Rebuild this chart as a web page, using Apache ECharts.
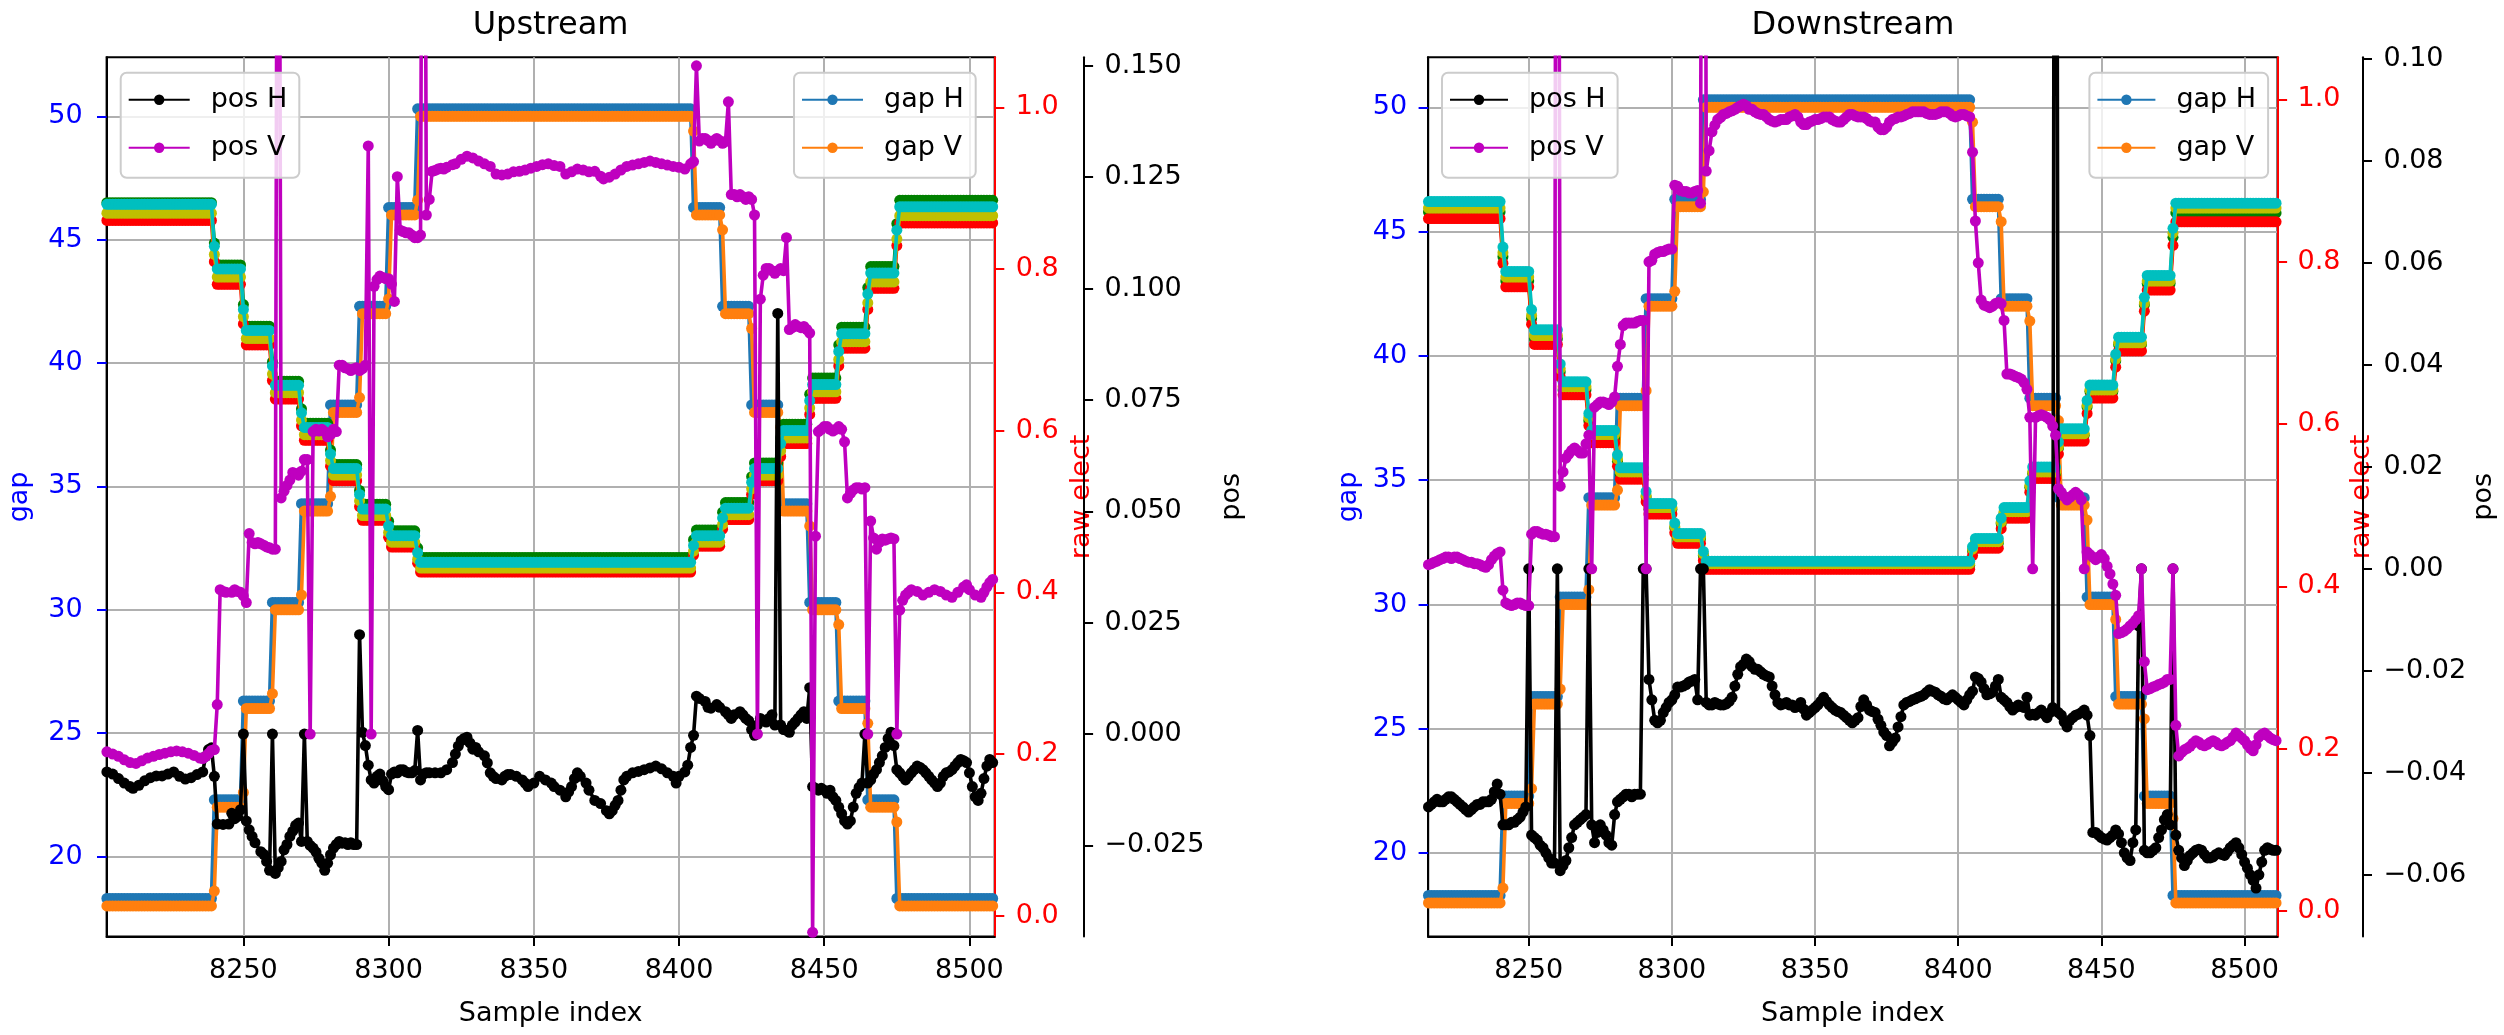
<!DOCTYPE html>
<html>
<head>
<meta charset="utf-8">
<title>Upstream / Downstream gap scan</title>
<script src="https://cdn.jsdelivr.net/npm/echarts@6.0.0/dist/echarts.min.js"></script>
<style>
  html, body { margin: 0; padding: 0; background: #ffffff; }
  #chart { width: 2504px; height: 1035px; }
</style>
</head>
<body>
<div id="chart"></div>
<script>
const FONT = 'DejaVu Sans';

// ---------- shared tick labels ----------
const xTicks = [8250, 8300, 8350, 8400, 8450, 8500];
const gapTicks = [20, 25, 30, 35, 40, 45, 50];
const electTicks = [0, 0.2, 0.4, 0.6, 0.8, 1.0];
const upPosTicks = [-0.025, 0, 0.025, 0.05, 0.075, 0.1, 0.125, 0.15];
const dnPosTicks = [-0.06, -0.04, -0.02, 0, 0.02, 0.04, 0.06, 0.08, 0.1];

// ---------- axis ranges ----------
const upXRange = [8202.9, 8508.7];
const upGapRange = [16.76, 52.39];
const upElectRange = [-0.0259, 1.0619];
const upPosRange = [-0.04545, 0.1519];
const dnXRange = [8214.9, 8511.5];
const dnGapRange = [16.65, 52.01];
const dnElectRange = [-0.0313, 1.0517];
const dnPosRange = [-0.0721, 0.1003];

// ---------- Upstream: sample span and set-point steps [first sample, value] ----------
const upSamples = [8203, 8508];
const upGapH = [[8203,18.3],[8240,22.3],[8250,26.3],[8260,30.3],[8270,34.3],[8280,38.3],[8290,42.3],[8300,46.3],[8310,50.3],[8405,46.3],[8415,42.3],[8425,38.3],[8435,34.3],[8445,30.3],[8455,26.3],[8465,22.3],[8475,18.3]];
const upGapV = [[8203,18.0],[8240,18.6],[8241,22.0],[8250,22.6],[8251,26.0],[8260,26.6],[8261,30.0],[8270,30.6],[8271,34.0],[8280,34.6],[8281,38.0],[8290,38.6],[8291,42.0],[8300,42.6],[8301,46.0],[8310,46.6],[8311,50.0],[8405,49.4],[8406,46.0],[8415,45.4],[8416,42.0],[8425,41.4],[8426,38.0],[8435,37.4],[8436,34.0],[8445,33.4],[8446,30.0],[8455,29.4],[8456,26.0],[8465,25.4],[8466,22.0],[8475,21.4],[8476,18.0]];
const upElectG = [[8203,0.882],[8240,0.832],[8241,0.805],[8250,0.756],[8251,0.729],[8260,0.685],[8261,0.661],[8270,0.627],[8271,0.609],[8280,0.576],[8281,0.558],[8290,0.526],[8291,0.509],[8300,0.488],[8301,0.476],[8310,0.455],[8311,0.443],[8405,0.465],[8406,0.477],[8415,0.499],[8416,0.511],[8425,0.543],[8426,0.560],[8435,0.591],[8436,0.608],[8445,0.645],[8446,0.665],[8455,0.706],[8456,0.728],[8465,0.777],[8466,0.803],[8475,0.856],[8476,0.885]];
const upElectR = [[8203,0.860],[8240,0.809],[8241,0.781],[8250,0.732],[8251,0.706],[8260,0.662],[8261,0.639],[8270,0.606],[8271,0.588],[8280,0.556],[8281,0.538],[8290,0.506],[8291,0.489],[8300,0.468],[8301,0.456],[8310,0.436],[8311,0.425],[8405,0.446],[8406,0.457],[8415,0.478],[8416,0.490],[8425,0.521],[8426,0.538],[8435,0.568],[8436,0.584],[8445,0.620],[8446,0.640],[8455,0.680],[8456,0.702],[8465,0.750],[8466,0.776],[8475,0.829],[8476,0.857]];
const upElectY = [[8203,0.869],[8240,0.818],[8241,0.790],[8250,0.741],[8251,0.714],[8260,0.670],[8261,0.647],[8270,0.613],[8271,0.595],[8280,0.563],[8281,0.545],[8290,0.513],[8291,0.495],[8300,0.474],[8301,0.462],[8310,0.441],[8311,0.430],[8405,0.451],[8406,0.462],[8415,0.484],[8416,0.496],[8425,0.528],[8426,0.545],[8435,0.575],[8436,0.591],[8445,0.628],[8446,0.648],[8455,0.688],[8456,0.710],[8465,0.758],[8466,0.784],[8475,0.837],[8476,0.866]];
const upElectC = [[8203,0.880],[8240,0.828],[8241,0.800],[8250,0.750],[8251,0.724],[8260,0.680],[8261,0.656],[8270,0.622],[8271,0.604],[8280,0.571],[8281,0.553],[8290,0.521],[8291,0.503],[8300,0.482],[8301,0.470],[8310,0.449],[8311,0.437],[8405,0.458],[8406,0.470],[8415,0.492],[8416,0.504],[8425,0.536],[8426,0.553],[8435,0.584],[8436,0.600],[8445,0.637],[8446,0.657],[8455,0.698],[8456,0.720],[8465,0.769],[8466,0.795],[8475,0.848],[8476,0.877]];

// ---------- Upstream beam position readings [sample, pos] ----------
const upPosH = [[8203,-0.0085],[8205,-0.0090],[8207,-0.0100],[8209,-0.0110],[8211,-0.0118],[8212,-0.0122],[8214,-0.0115],[8216,-0.0105],[8218,-0.0098],[8220,-0.0094],[8222,-0.0094],[8224,-0.0090],[8226,-0.0085],[8228,-0.0095],[8230,-0.0101],[8232,-0.0098],[8234,-0.0091],[8236,-0.0085],[8237,-0.0050],[8238,-0.0035],[8239,-0.0031],[8240,-0.0095],[8241,-0.0202],[8243,-0.0203],[8245,-0.0202],[8246,-0.0178],[8247,-0.0190],[8248,-0.0185],[8249,-0.0170],[8250,0.0000],[8251,-0.0195],[8252,-0.0215],[8253,-0.0230],[8254,-0.0244],[8256,-0.0264],[8257,-0.0270],[8258,-0.0286],[8259,-0.0306],[8260,0.0000],[8261,-0.0313],[8262,-0.0300],[8263,-0.0286],[8264,-0.0260],[8265,-0.0248],[8266,-0.0230],[8267,-0.0218],[8268,-0.0205],[8269,-0.0200],[8270,-0.0241],[8271,0.0000],[8272,-0.0241],[8273,-0.0250],[8274,-0.0256],[8275,-0.0265],[8276,-0.0279],[8277,-0.0290],[8278,-0.0306],[8279,-0.0290],[8280,-0.0271],[8281,-0.0256],[8282,-0.0248],[8283,-0.0241],[8284,-0.0245],[8285,-0.0244],[8286,-0.0248],[8287,-0.0244],[8288,-0.0248],[8289,-0.0248],[8290,0.0223],[8291,0.0004],[8292,-0.0026],[8293,-0.0070],[8294,-0.0103],[8295,-0.0110],[8296,-0.0095],[8297,-0.0090],[8298,-0.0105],[8299,-0.0118],[8300,-0.0125],[8301,-0.0090],[8302,-0.0085],[8303,-0.0087],[8304,-0.0080],[8305,-0.0080],[8306,-0.0085],[8307,-0.0087],[8308,-0.0087],[8309,-0.0082],[8310,0.0008],[8311,-0.0103],[8312,-0.0090],[8313,-0.0087],[8314,-0.0087],[8316,-0.0087],[8318,-0.0087],[8320,-0.0080],[8322,-0.0064],[8323,-0.0045],[8324,-0.0027],[8325,-0.0015],[8326,-0.0010],[8327,-0.0007],[8328,-0.0020],[8329,-0.0034],[8330,-0.0030],[8331,-0.0040],[8333,-0.0049],[8334,-0.0065],[8335,-0.0087],[8336,-0.0095],[8337,-0.0100],[8339,-0.0103],[8340,-0.0095],[8341,-0.0091],[8342,-0.0091],[8344,-0.0095],[8346,-0.0103],[8347,-0.0110],[8348,-0.0118],[8350,-0.0110],[8352,-0.0095],[8354,-0.0103],[8356,-0.0110],[8357,-0.0118],[8359,-0.0126],[8361,-0.0141],[8362,-0.0130],[8363,-0.0118],[8364,-0.0100],[8365,-0.0087],[8366,-0.0095],[8368,-0.0110],[8369,-0.0126],[8371,-0.0149],[8373,-0.0156],[8375,-0.0172],[8376,-0.0179],[8377,-0.0172],[8378,-0.0160],[8379,-0.0149],[8380,-0.0126],[8381,-0.0103],[8382,-0.0095],[8384,-0.0087],[8386,-0.0084],[8388,-0.0080],[8390,-0.0076],[8392,-0.0072],[8394,-0.0078],[8396,-0.0087],[8398,-0.0095],[8399,-0.0110],[8400,-0.0095],[8402,-0.0085],[8403,-0.0070],[8404,-0.0030],[8405,-0.0003],[8406,0.0085],[8407,0.0080],[8409,0.0073],[8410,0.0060],[8411,0.0058],[8413,0.0066],[8414,0.0060],[8416,0.0050],[8417,0.0043],[8418,0.0035],[8419,0.0043],[8421,0.0050],[8422,0.0043],[8423,0.0035],[8424,0.0030],[8425,0.0010],[8426,-0.0003],[8427,0.0020],[8428,0.0035],[8429,0.0030],[8430,0.0027],[8431,0.0035],[8432,0.0043],[8433,0.0020],[8434,0.0944],[8435,0.0020],[8436,0.0010],[8437,0.0008],[8438,0.0004],[8439,0.0020],[8440,0.0027],[8441,0.0035],[8442,0.0043],[8443,0.0050],[8444,0.0035],[8445,0.0104],[8446,-0.0118],[8447,-0.0122],[8448,-0.0126],[8449,-0.0122],[8450,-0.0126],[8451,-0.0133],[8452,-0.0126],[8453,-0.0141],[8454,-0.0149],[8455,-0.0164],[8456,-0.0179],[8457,-0.0195],[8458,-0.0202],[8459,-0.0195],[8460,-0.0164],[8461,-0.0133],[8462,-0.0120],[8463,-0.0110],[8464,0.0000],[8465,-0.0110],[8466,-0.0103],[8467,-0.0090],[8468,-0.0080],[8469,-0.0064],[8470,-0.0049],[8471,-0.0030],[8472,-0.0010],[8473,0.0004],[8474,-0.0026],[8475,-0.0080],[8476,-0.0087],[8477,-0.0095],[8478,-0.0103],[8479,-0.0095],[8480,-0.0087],[8481,-0.0080],[8482,-0.0072],[8483,-0.0075],[8484,-0.0080],[8485,-0.0087],[8486,-0.0095],[8487,-0.0103],[8488,-0.0110],[8489,-0.0118],[8490,-0.0110],[8491,-0.0095],[8492,-0.0087],[8493,-0.0085],[8494,-0.0080],[8495,-0.0072],[8496,-0.0064],[8497,-0.0057],[8498,-0.0060],[8499,-0.0064],[8500,-0.0087],[8501,-0.0118],[8502,-0.0141],[8503,-0.0149],[8504,-0.0133],[8505,-0.0100],[8506,-0.0072],[8507,-0.0057],[8508,-0.0064]];
const upPosV = [[8203,-0.0040],[8205,-0.0045],[8207,-0.0050],[8209,-0.0058],[8211,-0.0064],[8213,-0.0066],[8215,-0.0060],[8217,-0.0054],[8219,-0.0050],[8221,-0.0046],[8223,-0.0043],[8225,-0.0040],[8227,-0.0038],[8229,-0.0040],[8231,-0.0043],[8233,-0.0048],[8235,-0.0054],[8236,-0.0055],[8237,-0.0050],[8238,-0.0044],[8239,-0.0037],[8240,-0.0035],[8241,0.0066],[8242,0.0324],[8243,0.0320],[8244,0.0318],[8246,0.0318],[8247,0.0324],[8248,0.0320],[8249,0.0318],[8250,0.0310],[8251,0.0295],[8252,0.0450],[8253,0.0430],[8254,0.0427],[8255,0.0430],[8256,0.0427],[8257,0.0424],[8258,0.0420],[8259,0.0418],[8260,0.0415],[8261,0.0415],[8262,0.3000],[8263,0.0530],[8264,0.0545],[8265,0.0558],[8266,0.0570],[8267,0.0587],[8268,0.0585],[8269,0.0581],[8270,0.0590],[8271,0.0616],[8272,0.0616],[8273,0.0000],[8274,0.0679],[8275,0.0684],[8276,0.0680],[8277,0.0684],[8278,0.0679],[8279,0.0667],[8280,0.0672],[8281,0.0684],[8282,0.0679],[8283,0.0828],[8284,0.0828],[8285,0.0822],[8286,0.0820],[8287,0.0816],[8288,0.0820],[8289,0.0822],[8290,0.0816],[8291,0.0820],[8292,0.0828],[8293,0.1320],[8294,0.0000],[8295,0.1005],[8296,0.1020],[8297,0.1028],[8298,0.1025],[8299,0.1022],[8300,0.1022],[8301,0.1010],[8302,0.0971],[8303,0.1251],[8304,0.1131],[8305,0.1128],[8306,0.1125],[8307,0.1125],[8308,0.1120],[8309,0.1114],[8310,0.1114],[8311,0.1120],[8312,0.3000],[8313,0.1165],[8314,0.1200],[8315,0.1263],[8316,0.1265],[8317,0.1268],[8318,0.1270],[8319,0.1268],[8320,0.1272],[8322,0.1278],[8323,0.1280],[8325,0.1290],[8327,0.1297],[8329,0.1293],[8331,0.1286],[8333,0.1280],[8335,0.1274],[8337,0.1257],[8339,0.1255],[8341,0.1257],[8343,0.1262],[8345,0.1263],[8347,0.1266],[8349,0.1270],[8351,0.1274],[8353,0.1278],[8355,0.1280],[8357,0.1276],[8359,0.1274],[8361,0.1257],[8363,0.1262],[8365,0.1268],[8367,0.1266],[8369,0.1262],[8371,0.1263],[8373,0.1252],[8374,0.1246],[8376,0.1250],[8378,0.1257],[8380,0.1266],[8382,0.1274],[8384,0.1277],[8386,0.1280],[8388,0.1283],[8390,0.1286],[8392,0.1283],[8394,0.1280],[8396,0.1277],[8398,0.1274],[8400,0.1272],[8402,0.1268],[8404,0.1280],[8405,0.1285],[8406,0.1500],[8407,0.1331],[8408,0.1337],[8409,0.1337],[8410,0.1332],[8411,0.1326],[8412,0.1332],[8413,0.1337],[8414,0.1332],[8415,0.1326],[8416,0.1330],[8417,0.1419],[8418,0.1211],[8419,0.1211],[8420,0.1206],[8421,0.1211],[8422,0.1206],[8423,0.1200],[8424,0.1206],[8425,0.1200],[8426,0.1165],[8427,0.0000],[8428,0.0976],[8429,0.1030],[8430,0.1045],[8431,0.1045],[8432,0.1040],[8433,0.1034],[8434,0.1040],[8435,0.1045],[8436,0.1040],[8437,0.1114],[8438,0.0908],[8439,0.0912],[8440,0.0919],[8441,0.0915],[8442,0.0912],[8443,0.0915],[8444,0.0908],[8445,0.0900],[8446,-0.0445],[8447,0.0444],[8448,0.0679],[8449,0.0684],[8450,0.0690],[8451,0.0690],[8452,0.0684],[8453,0.0680],[8454,0.0684],[8455,0.0690],[8456,0.0684],[8457,0.0656],[8458,0.0530],[8459,0.0540],[8460,0.0548],[8461,0.0553],[8462,0.0553],[8463,0.0550],[8464,0.0553],[8465,0.0000],[8466,0.0478],[8467,0.0440],[8468,0.0415],[8469,0.0430],[8470,0.0438],[8471,0.0435],[8472,0.0438],[8473,0.0440],[8474,0.0438],[8475,0.0000],[8476,0.0278],[8477,0.0300],[8478,0.0312],[8479,0.0318],[8480,0.0324],[8482,0.0320],[8484,0.0312],[8486,0.0318],[8488,0.0324],[8490,0.0320],[8492,0.0312],[8494,0.0307],[8496,0.0318],[8498,0.0330],[8499,0.0335],[8500,0.0324],[8502,0.0312],[8504,0.0307],[8505,0.0318],[8506,0.0330],[8507,0.0340],[8508,0.0347]];

// ---------- Downstream: sample span and set-point steps ----------
const dnSamples = [8215, 8511];
const dnGapH = [[8215,18.3],[8241,22.3],[8251,26.3],[8261,30.3],[8271,34.3],[8281,38.3],[8291,42.3],[8301,46.3],[8311,50.3],[8405,46.3],[8415,42.3],[8425,38.3],[8435,34.3],[8445,30.3],[8455,26.3],[8465,22.3],[8475,18.3]];
const dnGapV = [[8215,18.0],[8241,18.6],[8242,22.0],[8251,22.6],[8252,26.0],[8261,26.6],[8262,30.0],[8271,30.6],[8272,34.0],[8281,34.6],[8282,38.0],[8291,38.6],[8292,42.0],[8301,42.6],[8302,46.0],[8311,46.6],[8312,50.0],[8405,49.4],[8406,46.0],[8415,45.4],[8416,42.0],[8425,41.4],[8426,38.0],[8435,37.4],[8436,34.0],[8445,33.4],[8446,30.0],[8455,29.4],[8456,26.0],[8465,25.4],[8466,22.0],[8475,21.4],[8476,18.0]];
const dnElectG = [[8215,0.861],[8241,0.806],[8242,0.776],[8251,0.730],[8252,0.705],[8261,0.664],[8262,0.642],[8271,0.604],[8272,0.583],[8281,0.554],[8282,0.538],[8291,0.510],[8292,0.495],[8301,0.472],[8302,0.459],[8311,0.438],[8312,0.426],[8405,0.444],[8406,0.453],[8415,0.477],[8416,0.490],[8425,0.522],[8426,0.539],[8435,0.570],[8436,0.586],[8445,0.621],[8446,0.640],[8455,0.678],[8456,0.698],[8465,0.747],[8466,0.773],[8475,0.830],[8476,0.860]];
const dnElectR = [[8215,0.853],[8241,0.798],[8242,0.769],[8251,0.723],[8252,0.698],[8261,0.658],[8262,0.636],[8271,0.598],[8272,0.577],[8281,0.548],[8282,0.532],[8291,0.504],[8292,0.489],[8301,0.466],[8302,0.453],[8311,0.432],[8312,0.421],[8405,0.438],[8406,0.447],[8415,0.471],[8416,0.484],[8425,0.516],[8426,0.533],[8435,0.563],[8436,0.579],[8445,0.613],[8446,0.632],[8455,0.670],[8456,0.690],[8465,0.739],[8466,0.765],[8475,0.820],[8476,0.849]];
const dnElectY = [[8215,0.866],[8241,0.811],[8242,0.781],[8251,0.734],[8252,0.709],[8261,0.668],[8262,0.646],[8271,0.608],[8272,0.587],[8281,0.557],[8282,0.541],[8291,0.512],[8292,0.497],[8301,0.474],[8302,0.461],[8311,0.440],[8312,0.428],[8405,0.446],[8406,0.455],[8415,0.479],[8416,0.492],[8425,0.524],[8426,0.541],[8435,0.572],[8436,0.588],[8445,0.623],[8446,0.642],[8455,0.680],[8456,0.700],[8465,0.749],[8466,0.776],[8475,0.835],[8476,0.866]];
const dnElectC = [[8215,0.874],[8241,0.818],[8242,0.788],[8251,0.741],[8252,0.716],[8261,0.674],[8262,0.652],[8271,0.613],[8272,0.592],[8281,0.562],[8282,0.546],[8291,0.517],[8292,0.502],[8301,0.478],[8302,0.465],[8311,0.443],[8312,0.431],[8405,0.449],[8406,0.459],[8415,0.484],[8416,0.497],[8425,0.530],[8426,0.547],[8435,0.578],[8436,0.594],[8445,0.629],[8446,0.648],[8455,0.686],[8456,0.707],[8465,0.756],[8466,0.783],[8475,0.841],[8476,0.872]];

// ---------- Downstream beam position readings [sample, pos] ----------
const dnPosH = [[8215,-0.0467],[8216,-0.0462],[8217,-0.0457],[8218,-0.0452],[8219,-0.0457],[8220,-0.0457],[8221,-0.0452],[8222,-0.0447],[8223,-0.0447],[8224,-0.0452],[8225,-0.0457],[8226,-0.0462],[8227,-0.0467],[8228,-0.0472],[8229,-0.0477],[8230,-0.0472],[8231,-0.0467],[8232,-0.0462],[8233,-0.0462],[8234,-0.0457],[8235,-0.0457],[8236,-0.0457],[8237,-0.0452],[8238,-0.0437],[8239,-0.0422],[8240,-0.0442],[8241,-0.0502],[8242,-0.0502],[8243,-0.0502],[8244,-0.0497],[8245,-0.0497],[8246,-0.0492],[8247,-0.0487],[8248,-0.0477],[8249,-0.0467],[8250,0.0000],[8251,-0.0522],[8252,-0.0527],[8253,-0.0532],[8254,-0.0542],[8255,-0.0547],[8256,-0.0557],[8257,-0.0567],[8258,-0.0577],[8259,-0.0577],[8260,0.0000],[8261,-0.0592],[8262,-0.0582],[8263,-0.0572],[8264,-0.0547],[8265,-0.0527],[8266,-0.0502],[8267,-0.0497],[8268,-0.0492],[8269,-0.0487],[8270,-0.0482],[8271,0.0000],[8272,-0.0502],[8273,-0.0537],[8274,-0.0517],[8275,-0.0502],[8276,-0.0512],[8277,-0.0522],[8278,-0.0537],[8279,-0.0542],[8280,-0.0482],[8281,-0.0457],[8282,-0.0452],[8283,-0.0447],[8284,-0.0442],[8285,-0.0442],[8286,-0.0447],[8287,-0.0442],[8288,-0.0442],[8289,-0.0442],[8290,0.0000],[8291,0.0000],[8292,-0.0217],[8293,-0.0257],[8294,-0.0297],[8295,-0.0302],[8296,-0.0297],[8297,-0.0282],[8298,-0.0272],[8299,-0.0262],[8300,-0.0257],[8301,-0.0247],[8302,-0.0232],[8303,-0.0232],[8304,-0.0230],[8305,-0.0227],[8306,-0.0222],[8307,-0.0220],[8308,-0.0217],[8309,-0.0257],[8310,0.0000],[8311,0.0000],[8312,-0.0262],[8313,-0.0267],[8314,-0.0267],[8315,-0.0262],[8316,-0.0265],[8317,-0.0267],[8318,-0.0267],[8319,-0.0265],[8320,-0.0260],[8321,-0.0252],[8322,-0.0230],[8323,-0.0207],[8324,-0.0192],[8325,-0.0187],[8326,-0.0177],[8327,-0.0182],[8328,-0.0192],[8329,-0.0197],[8330,-0.0197],[8331,-0.0202],[8332,-0.0207],[8333,-0.0210],[8334,-0.0212],[8335,-0.0230],[8336,-0.0247],[8337,-0.0262],[8338,-0.0267],[8339,-0.0265],[8340,-0.0262],[8341,-0.0267],[8342,-0.0267],[8343,-0.0272],[8344,-0.0270],[8345,-0.0262],[8346,-0.0275],[8347,-0.0287],[8348,-0.0282],[8349,-0.0277],[8350,-0.0272],[8351,-0.0267],[8352,-0.0260],[8353,-0.0252],[8354,-0.0260],[8355,-0.0267],[8356,-0.0272],[8357,-0.0277],[8358,-0.0280],[8359,-0.0282],[8360,-0.0287],[8361,-0.0292],[8362,-0.0297],[8363,-0.0302],[8364,-0.0297],[8365,-0.0292],[8366,-0.0270],[8367,-0.0257],[8368,-0.0267],[8369,-0.0277],[8370,-0.0280],[8371,-0.0282],[8372,-0.0295],[8373,-0.0307],[8374,-0.0320],[8375,-0.0327],[8376,-0.0347],[8377,-0.0340],[8378,-0.0332],[8379,-0.0310],[8380,-0.0290],[8381,-0.0267],[8382,-0.0262],[8383,-0.0260],[8384,-0.0257],[8385,-0.0255],[8386,-0.0252],[8387,-0.0250],[8388,-0.0247],[8389,-0.0242],[8390,-0.0237],[8391,-0.0240],[8392,-0.0242],[8393,-0.0247],[8394,-0.0250],[8395,-0.0255],[8396,-0.0257],[8397,-0.0252],[8398,-0.0247],[8399,-0.0252],[8400,-0.0257],[8401,-0.0262],[8402,-0.0267],[8403,-0.0257],[8404,-0.0247],[8405,-0.0240],[8406,-0.0212],[8407,-0.0215],[8408,-0.0222],[8409,-0.0235],[8410,-0.0247],[8411,-0.0245],[8412,-0.0242],[8413,-0.0230],[8414,-0.0217],[8415,-0.0252],[8416,-0.0257],[8417,-0.0262],[8418,-0.0270],[8419,-0.0277],[8420,-0.0272],[8421,-0.0267],[8422,-0.0270],[8423,-0.0272],[8424,-0.0252],[8425,-0.0287],[8426,-0.0285],[8427,-0.0287],[8428,-0.0282],[8429,-0.0277],[8430,-0.0285],[8431,-0.0292],[8432,-0.0282],[8433,-0.0272],[8434,0.3000],[8435,-0.0282],[8436,-0.0287],[8437,-0.0300],[8438,-0.0310],[8439,-0.0297],[8440,-0.0292],[8441,-0.0287],[8442,-0.0285],[8443,-0.0282],[8444,-0.0277],[8445,-0.0287],[8446,-0.0327],[8447,-0.0517],[8448,-0.0517],[8449,-0.0522],[8450,-0.0527],[8451,-0.0530],[8452,-0.0532],[8453,-0.0527],[8454,-0.0522],[8455,-0.0512],[8456,-0.0520],[8457,-0.0537],[8458,-0.0557],[8459,-0.0567],[8460,-0.0572],[8461,-0.0537],[8462,-0.0512],[8463,-0.0112],[8464,0.0000],[8465,-0.0552],[8466,-0.0557],[8467,-0.0557],[8468,-0.0552],[8469,-0.0547],[8470,-0.0527],[8471,-0.0512],[8472,-0.0492],[8473,-0.0482],[8474,-0.0502],[8475,0.0000],[8476,-0.0522],[8477,-0.0552],[8478,-0.0567],[8479,-0.0582],[8480,-0.0572],[8481,-0.0562],[8482,-0.0557],[8483,-0.0552],[8484,-0.0550],[8485,-0.0552],[8486,-0.0560],[8487,-0.0567],[8488,-0.0567],[8489,-0.0565],[8490,-0.0560],[8491,-0.0557],[8492,-0.0560],[8493,-0.0562],[8494,-0.0555],[8495,-0.0547],[8496,-0.0542],[8497,-0.0537],[8498,-0.0547],[8499,-0.0560],[8500,-0.0575],[8501,-0.0587],[8502,-0.0600],[8503,-0.0611],[8504,-0.0626],[8505,-0.0600],[8506,-0.0575],[8507,-0.0552],[8508,-0.0547],[8509,-0.0550],[8510,-0.0552],[8511,-0.0552]];
const dnPosV = [[8215,0.0008],[8216,0.0010],[8217,0.0013],[8218,0.0015],[8219,0.0018],[8220,0.0020],[8221,0.0023],[8222,0.0023],[8223,0.0020],[8224,0.0023],[8225,0.0023],[8226,0.0020],[8227,0.0018],[8228,0.0015],[8229,0.0013],[8230,0.0013],[8231,0.0010],[8232,0.0010],[8233,0.0008],[8234,0.0005],[8235,0.0003],[8236,0.0008],[8237,0.0018],[8238,0.0025],[8239,0.0030],[8240,0.0033],[8241,-0.0042],[8242,-0.0067],[8243,-0.0070],[8244,-0.0072],[8245,-0.0070],[8246,-0.0067],[8247,-0.0067],[8248,-0.0070],[8249,-0.0072],[8250,-0.0072],[8251,0.0068],[8252,0.0073],[8253,0.0073],[8254,0.0070],[8255,0.0068],[8256,0.0068],[8257,0.0066],[8258,0.0063],[8259,0.0063],[8260,0.3000],[8261,0.0162],[8262,0.0190],[8263,0.0217],[8264,0.0225],[8265,0.0232],[8266,0.0237],[8267,0.0232],[8268,0.0227],[8269,0.0227],[8270,0.0245],[8271,0.0262],[8272,0.0000],[8273,0.0317],[8274,0.0322],[8275,0.0327],[8276,0.0327],[8277,0.0325],[8278,0.0322],[8279,0.0327],[8280,0.0337],[8281,0.0397],[8282,0.0440],[8283,0.0477],[8284,0.0482],[8285,0.0482],[8286,0.0482],[8287,0.0482],[8288,0.0485],[8289,0.0487],[8290,0.0487],[8291,0.0000],[8292,0.0602],[8293,0.0605],[8294,0.0617],[8295,0.0620],[8296,0.0622],[8297,0.0622],[8298,0.0625],[8299,0.0627],[8300,0.0627],[8301,0.0752],[8302,0.0750],[8303,0.0742],[8304,0.0740],[8305,0.0740],[8306,0.0737],[8307,0.0737],[8308,0.0740],[8309,0.0742],[8310,0.0717],[8311,0.3000],[8312,0.0780],[8313,0.0820],[8314,0.0857],[8315,0.0870],[8316,0.0881],[8317,0.0885],[8318,0.0891],[8319,0.0893],[8320,0.0896],[8321,0.0898],[8322,0.0901],[8323,0.0905],[8324,0.0908],[8325,0.0911],[8326,0.0908],[8327,0.0901],[8328,0.0901],[8329,0.0896],[8330,0.0893],[8331,0.0891],[8332,0.0891],[8333,0.0886],[8334,0.0881],[8335,0.0878],[8336,0.0876],[8337,0.0878],[8338,0.0881],[8339,0.0881],[8340,0.0881],[8341,0.0886],[8342,0.0888],[8343,0.0891],[8344,0.0886],[8345,0.0876],[8346,0.0871],[8347,0.0871],[8348,0.0876],[8349,0.0878],[8350,0.0881],[8351,0.0881],[8352,0.0883],[8353,0.0886],[8354,0.0886],[8355,0.0886],[8356,0.0881],[8357,0.0878],[8358,0.0876],[8359,0.0876],[8360,0.0881],[8361,0.0886],[8362,0.0891],[8363,0.0891],[8364,0.0888],[8365,0.0886],[8366,0.0886],[8367,0.0886],[8368,0.0883],[8369,0.0878],[8370,0.0876],[8371,0.0876],[8372,0.0866],[8373,0.0861],[8374,0.0861],[8375,0.0866],[8376,0.0876],[8377,0.0881],[8378,0.0883],[8379,0.0886],[8380,0.0886],[8381,0.0888],[8382,0.0891],[8383,0.0893],[8384,0.0896],[8385,0.0896],[8386,0.0896],[8387,0.0896],[8388,0.0896],[8389,0.0893],[8390,0.0891],[8391,0.0891],[8392,0.0891],[8393,0.0893],[8394,0.0896],[8395,0.0896],[8396,0.0896],[8397,0.0893],[8398,0.0888],[8399,0.0886],[8400,0.0888],[8401,0.0891],[8402,0.0891],[8403,0.0888],[8404,0.0886],[8405,0.0817],[8406,0.0682],[8407,0.0600],[8408,0.0527],[8409,0.0517],[8410,0.0515],[8411,0.0512],[8412,0.0515],[8413,0.0520],[8414,0.0522],[8415,0.0520],[8416,0.0487],[8417,0.0382],[8418,0.0382],[8419,0.0380],[8420,0.0377],[8421,0.0375],[8422,0.0372],[8423,0.0365],[8424,0.0352],[8425,0.0297],[8426,0.0000],[8427,0.0297],[8428,0.0300],[8429,0.0302],[8430,0.0300],[8431,0.0297],[8432,0.0292],[8433,0.0280],[8434,0.0262],[8435,0.0157],[8436,0.0150],[8437,0.0142],[8438,0.0135],[8439,0.0140],[8440,0.0145],[8441,0.0150],[8442,0.0145],[8443,0.0135],[8444,0.0000],[8445,0.0033],[8446,0.0028],[8447,0.0023],[8448,0.0018],[8449,0.0023],[8450,0.0028],[8451,0.0020],[8452,0.0005],[8453,-0.0010],[8454,-0.0030],[8455,-0.0052],[8456,-0.0127],[8457,-0.0125],[8458,-0.0122],[8459,-0.0118],[8460,-0.0112],[8461,-0.0107],[8462,-0.0100],[8463,-0.0092],[8464,0.0000],[8465,-0.0182],[8466,-0.0237],[8467,-0.0235],[8468,-0.0232],[8469,-0.0230],[8470,-0.0227],[8471,-0.0225],[8472,-0.0222],[8473,-0.0217],[8474,-0.0217],[8475,0.0000],[8476,-0.0307],[8477,-0.0367],[8478,-0.0360],[8479,-0.0355],[8480,-0.0352],[8481,-0.0348],[8482,-0.0342],[8483,-0.0337],[8484,-0.0340],[8485,-0.0345],[8486,-0.0347],[8487,-0.0344],[8488,-0.0340],[8489,-0.0337],[8490,-0.0340],[8491,-0.0345],[8492,-0.0347],[8493,-0.0344],[8494,-0.0340],[8495,-0.0337],[8496,-0.0330],[8497,-0.0322],[8498,-0.0327],[8499,-0.0332],[8500,-0.0337],[8501,-0.0345],[8502,-0.0352],[8503,-0.0357],[8504,-0.0345],[8505,-0.0330],[8506,-0.0325],[8507,-0.0322],[8508,-0.0327],[8509,-0.0332],[8510,-0.0335],[8511,-0.0337]];

// ---------- colours ----------
const C = {
  gapH: '#1f77b4', gapV: '#ff7f0e',
  elG: '#008000', elR: '#ff0000', elY: '#bfbf00', elC: '#00bfbf',
  posH: '#000000', posV: '#bf00bf'
};

// Hold each set-point value until the next step, one point per sample.
function holdSteps(steps, span) {
  const out = [];
  let k = 0;
  for (let s = span[0]; s <= span[1]; s++) {
    while (k + 1 < steps.length && steps[k + 1][0] <= s) k++;
    out.push([s, steps[k][1]]);
  }
  return out;
}

const fmt = d => v => (v < 0 ? '\u2212' : '') + Math.abs(v).toFixed(d);

function line(name, data, color, xi, yi, z) {
  return {
    type: 'line', name, data, xAxisIndex: xi, yAxisIndex: yi, z,
    symbol: 'circle', symbolSize: 11, showSymbol: true,
    lineStyle: { color, width: 3.6 }, itemStyle: { color },
    animation: false, silent: true, clip: true
  };
}

// grid rectangles (two panels)
const grids = [
  { left: 106.6, top: 57.3, width: 888.1, height: 879.2 },
  { left: 1428.2, top: 57.3, width: 849.3, height: 879.2 }
];

function xAxis(gi, range) {
  return {
    type: 'value', gridIndex: gi, min: range[0], max: range[1],
    name: 'Sample index', nameLocation: 'middle', nameGap: 64,
    nameTextStyle: { fontSize: 27, fontFamily: FONT, color: '#000' },
    axisLine: { show: true, onZero: false, lineStyle: { color: '#000', width: 2 } },
    axisTick: { show: true, length: 9.6, customValues: xTicks, lineStyle: { color: '#000', width: 2 } },
    axisLabel: { customValues: xTicks, fontSize: 27, fontFamily: FONT, color: '#000', margin: 21, formatter: v => String(v) },
    splitLine: { show: true, lineStyle: { color: '#b0b0b0', width: 2 } }
  };
}

function yAxis(o) {
  return {
    type: 'value', gridIndex: o.gi, position: o.pos, offset: o.offset || 0,
    min: o.range[0], max: o.range[1],
    name: o.name, nameLocation: 'middle', nameRotate: 90, nameGap: o.nameGap,
    nameTextStyle: { fontSize: 27, fontFamily: FONT, color: o.color },
    axisLine: { show: true, onZero: false, lineStyle: { color: o.lineColor, width: 2 } },
    axisTick: { show: true, length: 9.6, customValues: o.ticks, lineStyle: { color: o.color, width: 2 } },
    axisLabel: { customValues: o.ticks, fontSize: 27, fontFamily: FONT, color: o.color, margin: o.margin, formatter: o.fmt },
    splitLine: { show: !!o.split, lineStyle: { color: '#b0b0b0', width: 2 } }
  };
}

const yAxes = [
  yAxis({ gi: 0, pos: 'left', range: upGapRange, name: 'gap', nameGap: 73, color: '#0000ff', lineColor: '#000', ticks: gapTicks, margin: 24, fmt: v => String(v), split: true }),
  yAxis({ gi: 0, pos: 'right', range: upElectRange, name: 'raw elect', nameGap: 74, color: '#ff0000', lineColor: '#ff0000', ticks: electTicks, margin: 21, fmt: fmt(1) }),
  yAxis({ gi: 0, pos: 'right', offset: 88.8, range: upPosRange, name: 'pos', nameGap: 135, color: '#000', lineColor: '#000', ticks: upPosTicks, margin: 21, fmt: fmt(3) }),
  yAxis({ gi: 1, pos: 'left', range: dnGapRange, name: 'gap', nameGap: 66, color: '#0000ff', lineColor: '#000', ticks: gapTicks, margin: 21, fmt: v => String(v), split: true }),
  yAxis({ gi: 1, pos: 'right', range: dnElectRange, name: 'raw elect', nameGap: 71, color: '#ff0000', lineColor: '#ff0000', ticks: electTicks, margin: 20, fmt: fmt(1) }),
  yAxis({ gi: 1, pos: 'right', offset: 84.9, range: dnPosRange, name: 'pos', nameGap: 107, color: '#000', lineColor: '#000', ticks: dnPosTicks, margin: 21, fmt: fmt(2) })
];

function panelSeries(xi, y0, span, gapH, gapV, eg, er, ey, ec, posH, posV) {
  return [
    line('gap H', holdSteps(gapH, span), C.gapH, xi, y0, 2),
    line('gap V', holdSteps(gapV, span), C.gapV, xi, y0, 3),
    line('elect 1', holdSteps(eg, span), C.elG, xi, y0 + 1, 4),
    line('elect 2', holdSteps(er, span), C.elR, xi, y0 + 1, 5),
    line('elect 3', holdSteps(ey, span), C.elY, xi, y0 + 1, 6),
    line('elect 4', holdSteps(ec, span), C.elC, xi, y0 + 1, 7),
    line('pos H', posH, C.posH, xi, y0 + 2, 8),
    line('pos V', posV, C.posV, xi, y0 + 2, 9)
  ];
}

const series = [].concat(
  panelSeries(0, 0, upSamples, upGapH, upGapV, upElectG, upElectR, upElectY, upElectC, upPosH, upPosV),
  panelSeries(1, 3, dnSamples, dnGapH, dnGapV, dnElectG, dnElectR, dnElectY, dnElectC, dnPosH, dnPosV)
);

function legend(names, left, itemWidth) {
  return {
    data: names, left, top: 72.7, orient: 'vertical', z: 20,
    selectedMode: false, itemWidth, itemHeight: 13, itemGap: 18,
    padding: [12, 12, 15, 7],
    backgroundColor: 'rgba(255,255,255,0.8)', borderColor: '#cccccc', borderWidth: 2, borderRadius: 6,
    textStyle: { fontSize: 27, fontFamily: FONT, color: '#000', lineHeight: 30, padding: [0, 0, 0, 16] }
  };
}

const option = {
  animation: false,
  backgroundColor: '#ffffff',
  textStyle: { fontFamily: FONT },
  grid: grids.map(g => Object.assign({ show: true, borderColor: '#000', borderWidth: 2, backgroundColor: 'transparent', containLabel: false }, g)),
  xAxis: [xAxis(0, upXRange), xAxis(1, dnXRange)],
  yAxis: yAxes,
  legend: [
    legend(['pos H', 'pos V'], 120.7, 61),
    legend(['gap H', 'gap V'], 794, 61),
    legend(['pos H', 'pos V'], 1442, 58),
    legend(['gap H', 'gap V'], 2089.4, 58)
  ],
  graphic: [
    { type: 'text', x: 550.6, y: 10, silent: true, style: { text: 'Upstream', fontSize: 32, fontFamily: FONT, fill: '#000', align: 'center', verticalAlign: 'top' } },
    { type: 'text', x: 1852.9, y: 10, silent: true, style: { text: 'Downstream', fontSize: 32, fontFamily: FONT, fill: '#000', align: 'center', verticalAlign: 'top' } }
  ],
  series
};

const chart = echarts.init(document.getElementById('chart'), null, { renderer: 'canvas', width: 2504, height: 1035 });
chart.setOption(option);
</script>
</body>
</html>
